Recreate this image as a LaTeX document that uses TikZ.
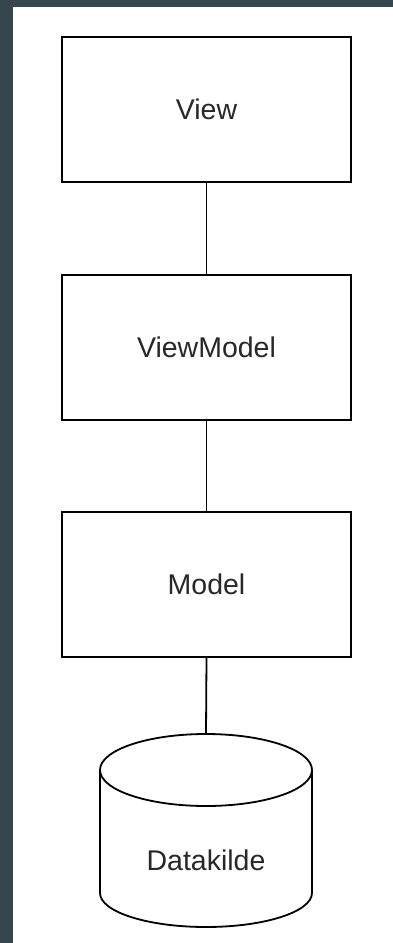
\documentclass[tikz,border=0pt]{standalone}
\usepackage{fontspec}
\setmainfont{Liberation Sans}
\definecolor{frame}{RGB}{54,70,79}
\definecolor{txt}{RGB}{40,40,40}
\begin{document}
\begin{tikzpicture}[x=1pt,y=-1pt,
  layerbox/.style={draw=black,line width=2pt,fill=white,minimum width=289pt,minimum height=145pt,inner sep=0pt,text=txt,font=\fontsize{28.5}{34}\selectfont},
  link/.style={draw=black,line width=1.8pt},
  dbshape/.style={draw=black,line width=1.8pt,fill=white}]
\useasboundingbox (0,0) rectangle (393,943);
\fill[white] (0,0) rectangle (393,943);
\fill[frame] (0,0) rectangle (13,943);
\fill[frame] (0,0) rectangle (393,7);
\node[layerbox] (view) at (206.5,109.5) {View};
\node[layerbox] (vm) at (206.5,347.5) {ViewModel};
\node[layerbox] (model) at (206.5,584.5) {Model};
% cylinder
\path[dbshape] (100,770) -- (100,893) arc[start angle=180,end angle=360,x radius=106,y radius=-34] -- (312,770);
\path[dbshape] (206,770) ellipse[x radius=106,y radius=36];
\coordinate (dbtop) at (206,734);
\node[text=txt,font=\fontsize{28.5}{34}\selectfont,inner sep=0pt] (db) at (206,860) {Datakilde};
\draw[link] (view.south) -- (vm.north);
\draw[link] (vm.south) -- (model.north);
\draw[link] (model.south) -- (dbtop);
\end{tikzpicture}
\end{document}
